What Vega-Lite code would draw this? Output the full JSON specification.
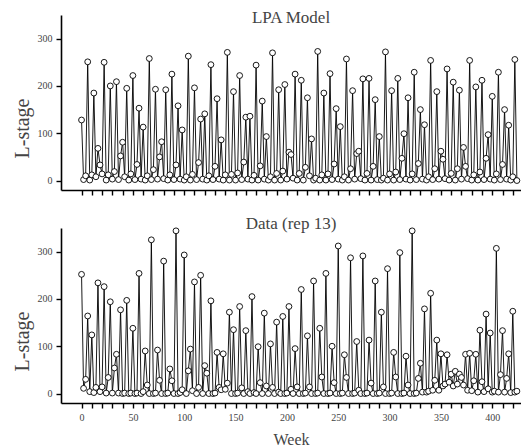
{
  "$schema": "https://vega.github.io/schema/vega-lite/v6.json",
  "padding": {"left": 12, "top": 9, "right": 1, "bottom": 2},
  "config": {
    "view": {"stroke": null},
    "font": "Liberation Serif",
    "axis": {"grid": false, "domainColor": "#000", "domainWidth": 1.6, "tickColor": "#000", "tickWidth": 1.4, "labelFont": "Liberation Serif", "labelColor": "#444", "labelFontSize": 10, "titleFont": "Liberation Serif", "titleFontWeight": "normal", "titleColor": "#444"},
    "title": {"font": "Liberation Serif", "fontWeight": "normal", "fontSize": 17, "color": "#444"}
  },
  "datasets": {
    "model": [
{"w":0,"L":128},{"w":2,"L":2},{"w":4,"L":10},{"w":6,"L":251},{"w":8,"L":1},{"w":10,"L":12},{"w":12,"L":185},{"w":14,"L":8},{"w":16,"L":68},{"w":18,"L":33},
{"w":20,"L":14},{"w":22,"L":250},{"w":24,"L":1},{"w":26,"L":12},{"w":28,"L":200},{"w":30,"L":3},{"w":32,"L":19},{"w":34,"L":209},{"w":36,"L":2},{"w":38,"L":52},
{"w":40,"L":81},{"w":42,"L":8},{"w":44,"L":195},{"w":46,"L":1},{"w":48,"L":14},{"w":50,"L":222},{"w":52,"L":2},{"w":54,"L":34},{"w":56,"L":153},{"w":58,"L":3},
{"w":60,"L":113},{"w":62,"L":1},{"w":64,"L":10},{"w":66,"L":258},{"w":68,"L":2},{"w":70,"L":23},{"w":72,"L":193},{"w":74,"L":3},{"w":76,"L":50},{"w":78,"L":82},
{"w":80,"L":4},{"w":82,"L":192},{"w":84,"L":1},{"w":86,"L":12},{"w":88,"L":225},{"w":90,"L":2},{"w":92,"L":33},{"w":94,"L":158},{"w":96,"L":3},{"w":98,"L":107},
{"w":100,"L":1},{"w":102,"L":8},{"w":104,"L":263},{"w":106,"L":1},{"w":108,"L":13},{"w":110,"L":196},{"w":112,"L":2},{"w":114,"L":38},{"w":116,"L":130},{"w":118,"L":3},
{"w":120,"L":141},{"w":122,"L":1},{"w":124,"L":10},{"w":126,"L":245},{"w":128,"L":2},{"w":130,"L":30},{"w":132,"L":173},{"w":134,"L":3},{"w":136,"L":86},{"w":138,"L":1},
{"w":140,"L":12},{"w":142,"L":271},{"w":144,"L":1},{"w":146,"L":13},{"w":148,"L":188},{"w":150,"L":1},{"w":152,"L":16},{"w":154,"L":222},{"w":156,"L":2},{"w":158,"L":39},
{"w":160,"L":134},{"w":162,"L":3},{"w":164,"L":136},{"w":166,"L":1},{"w":168,"L":11},{"w":170,"L":244},{"w":172,"L":1},{"w":174,"L":31},{"w":176,"L":168},{"w":178,"L":3},
{"w":180,"L":93},{"w":182,"L":1},{"w":184,"L":8},{"w":186,"L":270},{"w":188,"L":1},{"w":190,"L":15},{"w":192,"L":192},{"w":194,"L":1},{"w":196,"L":20},{"w":198,"L":203},
{"w":200,"L":3},{"w":202,"L":60},{"w":204,"L":55},{"w":206,"L":5},{"w":208,"L":225},{"w":210,"L":1},{"w":212,"L":15},{"w":214,"L":212},{"w":216,"L":1},{"w":218,"L":28},
{"w":220,"L":175},{"w":222,"L":10},{"w":224,"L":88},{"w":226,"L":1},{"w":228,"L":5},{"w":230,"L":273},{"w":232,"L":1},{"w":234,"L":12},{"w":236,"L":185},{"w":238,"L":1},
{"w":240,"L":14},{"w":242,"L":226},{"w":244,"L":2},{"w":246,"L":35},{"w":248,"L":152},{"w":250,"L":3},{"w":252,"L":114},{"w":254,"L":1},{"w":256,"L":8},{"w":258,"L":257},
{"w":260,"L":1},{"w":262,"L":25},{"w":264,"L":190},{"w":266,"L":3},{"w":268,"L":57},{"w":270,"L":62},{"w":272,"L":4},{"w":274,"L":215},{"w":276,"L":1},{"w":278,"L":15},
{"w":280,"L":216},{"w":282,"L":1},{"w":284,"L":30},{"w":286,"L":171},{"w":288,"L":2},{"w":290,"L":93},{"w":292,"L":1},{"w":294,"L":5},{"w":296,"L":272},{"w":298,"L":1},
{"w":300,"L":14},{"w":302,"L":190},{"w":304,"L":1},{"w":306,"L":18},{"w":308,"L":216},{"w":310,"L":2},{"w":312,"L":47},{"w":314,"L":99},{"w":316,"L":3},{"w":318,"L":175},
{"w":320,"L":1},{"w":322,"L":14},{"w":324,"L":229},{"w":326,"L":2},{"w":328,"L":36},{"w":330,"L":150},{"w":332,"L":3},{"w":334,"L":118},{"w":336,"L":1},{"w":338,"L":8},
{"w":340,"L":254},{"w":342,"L":2},{"w":344,"L":25},{"w":346,"L":188},{"w":348,"L":3},{"w":350,"L":62},{"w":352,"L":45},{"w":354,"L":4},{"w":356,"L":236},{"w":358,"L":1},
{"w":360,"L":15},{"w":362,"L":208},{"w":364,"L":1},{"w":366,"L":25},{"w":368,"L":191},{"w":370,"L":3},{"w":372,"L":70},{"w":374,"L":30},{"w":376,"L":4},{"w":378,"L":254},
{"w":380,"L":1},{"w":382,"L":12},{"w":384,"L":198},{"w":386,"L":1},{"w":388,"L":18},{"w":390,"L":212},{"w":392,"L":2},{"w":394,"L":47},{"w":396,"L":97},{"w":398,"L":3},
{"w":400,"L":178},{"w":402,"L":1},{"w":404,"L":14},{"w":406,"L":229},{"w":408,"L":2},{"w":410,"L":34},{"w":412,"L":150},{"w":414,"L":3},{"w":416,"L":117},{"w":418,"L":1},
{"w":420,"L":8},{"w":422,"L":256},{"w":424,"L":0}
    ],
    "data": [
{"w":0,"L":252},{"w":2,"L":11},{"w":4,"L":30},{"w":6,"L":164},{"w":8,"L":4},{"w":10,"L":124},{"w":12,"L":2},{"w":14,"L":13},{"w":16,"L":234},{"w":18,"L":4},
{"w":20,"L":14},{"w":22,"L":226},{"w":24,"L":1},{"w":26,"L":34},{"w":28,"L":194},{"w":30,"L":1},{"w":32,"L":54},{"w":34,"L":83},{"w":36,"L":1},{"w":38,"L":177},
{"w":40,"L":0},{"w":42,"L":1},{"w":44,"L":197},{"w":46,"L":0},{"w":48,"L":1},{"w":50,"L":138},{"w":52,"L":0},{"w":54,"L":1},{"w":56,"L":254},{"w":58,"L":0},
{"w":60,"L":4},{"w":62,"L":90},{"w":64,"L":18},{"w":66,"L":0},{"w":68,"L":325},{"w":70,"L":0},{"w":72,"L":1},{"w":74,"L":92},{"w":76,"L":28},{"w":78,"L":0},
{"w":80,"L":280},{"w":82,"L":0},{"w":84,"L":1},{"w":86,"L":52},{"w":88,"L":27},{"w":90,"L":0},{"w":92,"L":344},{"w":94,"L":0},{"w":96,"L":2},{"w":98,"L":8},
{"w":100,"L":293},{"w":102,"L":0},{"w":104,"L":48},{"w":106,"L":94},{"w":108,"L":6},{"w":110,"L":236},{"w":112,"L":0},{"w":114,"L":13},{"w":116,"L":250},{"w":118,"L":0},
{"w":120,"L":59},{"w":122,"L":43},{"w":124,"L":0},{"w":126,"L":196},{"w":128,"L":0},{"w":130,"L":1},{"w":132,"L":87},{"w":134,"L":13},{"w":136,"L":8},{"w":138,"L":84},
{"w":140,"L":9},{"w":142,"L":22},{"w":144,"L":172},{"w":146,"L":0},{"w":148,"L":135},{"w":150,"L":0},{"w":152,"L":1},{"w":154,"L":184},{"w":156,"L":12},{"w":158,"L":0},
{"w":160,"L":133},{"w":162,"L":4},{"w":164,"L":0},{"w":166,"L":205},{"w":168,"L":2},{"w":170,"L":0},{"w":172,"L":99},{"w":174,"L":23},{"w":176,"L":0},{"w":178,"L":170},
{"w":180,"L":16},{"w":182,"L":0},{"w":184,"L":105},{"w":186,"L":13},{"w":188,"L":0},{"w":190,"L":151},{"w":192,"L":3},{"w":194,"L":0},{"w":196,"L":163},{"w":198,"L":0},
{"w":200,"L":1},{"w":202,"L":184},{"w":204,"L":9},{"w":206,"L":0},{"w":208,"L":95},{"w":210,"L":14},{"w":212,"L":0},{"w":214,"L":220},{"w":216,"L":0},{"w":218,"L":1},
{"w":220,"L":122},{"w":222,"L":14},{"w":224,"L":0},{"w":226,"L":238},{"w":228,"L":0},{"w":230,"L":1},{"w":232,"L":138},{"w":234,"L":35},{"w":236,"L":0},{"w":238,"L":254},
{"w":240,"L":0},{"w":242,"L":1},{"w":244,"L":100},{"w":246,"L":23},{"w":248,"L":0},{"w":250,"L":312},{"w":252,"L":0},{"w":254,"L":1},{"w":256,"L":82},{"w":258,"L":34},
{"w":260,"L":0},{"w":262,"L":287},{"w":264,"L":0},{"w":266,"L":1},{"w":268,"L":110},{"w":270,"L":7},{"w":272,"L":0},{"w":274,"L":291},{"w":276,"L":0},{"w":278,"L":1},
{"w":280,"L":113},{"w":282,"L":22},{"w":284,"L":0},{"w":286,"L":238},{"w":288,"L":0},{"w":290,"L":1},{"w":292,"L":172},{"w":294,"L":14},{"w":296,"L":0},{"w":298,"L":264},
{"w":300,"L":0},{"w":302,"L":1},{"w":304,"L":87},{"w":306,"L":35},{"w":308,"L":0},{"w":310,"L":298},{"w":312,"L":0},{"w":314,"L":1},{"w":316,"L":79},{"w":318,"L":18},
{"w":320,"L":0},{"w":322,"L":344},{"w":324,"L":0},{"w":326,"L":1},{"w":328,"L":32},{"w":330,"L":64},{"w":332,"L":3},{"w":334,"L":179},{"w":336,"L":3},{"w":338,"L":5},
{"w":340,"L":212},{"w":342,"L":7},{"w":344,"L":28},{"w":346,"L":113},{"w":348,"L":7},{"w":350,"L":84},{"w":352,"L":16},{"w":354,"L":20},{"w":356,"L":82},{"w":358,"L":24},
{"w":360,"L":41},{"w":362,"L":16},{"w":364,"L":47},{"w":366,"L":20},{"w":368,"L":41},{"w":370,"L":34},{"w":372,"L":18},{"w":374,"L":83},{"w":376,"L":7},{"w":378,"L":85},
{"w":380,"L":6},{"w":382,"L":27},{"w":384,"L":83},{"w":386,"L":3},{"w":388,"L":134},{"w":390,"L":25},{"w":392,"L":4},{"w":394,"L":168},{"w":396,"L":10},{"w":398,"L":128},
{"w":400,"L":3},{"w":402,"L":5},{"w":404,"L":307},{"w":406,"L":3},{"w":408,"L":40},{"w":410,"L":133},{"w":412,"L":3},{"w":414,"L":32},{"w":416,"L":84},{"w":418,"L":2},
{"w":420,"L":174},{"w":422,"L":3},{"w":424,"L":5}
    ]
  },
  "spacing": 19,
  "vconcat": [
    {
      "width": 460, "height": 175,
      "title": {"text": "LPA Model", "offset": -12, "anchor": "middle"},
      "data": {"name": "model"},
      "encoding": {
        "x": {"field": "w", "type": "quantitative", "scale": {"domain": [-20, 428], "nice": false, "zero": false},
              "axis": {"title": null, "labels": false, "values": [0,10,20,30,40,50,60,70,80,90,100,110,120,130,140,150,160,170,180,190,200,210,220,230,240,250,260,270,280,290,300,310,320,330,340,350,360,370,380,390,400,410,420], "tickSize": 5}},
        "y": {"field": "L", "type": "quantitative", "scale": {"domain": [-20, 350], "nice": false, "zero": false},
              "axis": {"title": "L-stage", "values": [0, 100, 200, 300], "tickSize": 5, "labelPadding": 4, "titleFontSize": 20, "titleX": -33, "titleY": 113, "titleBaseline": "alphabetic", "titleAngle": 270}}
      },
      "layer": [
        {"mark": {"type": "line", "color": "#000", "strokeWidth": 0.9}},
        {"mark": {"type": "point", "filled": true, "fill": "#fff", "stroke": "#000", "strokeWidth": 0.9, "size": 34, "opacity": 1}}
      ]
    },
    {
      "width": 460, "height": 175,
      "title": {"text": "Data (rep 13)", "offset": -7, "anchor": "middle"},
      "data": {"name": "data"},
      "encoding": {
        "x": {"field": "w", "type": "quantitative", "scale": {"domain": [-20, 428], "nice": false, "zero": false},
              "axis": {"title": "Week", "titleFontSize": 16, "titlePadding": 9, "labelPadding": 4, "values": [0,10,20,30,40,50,60,70,80,90,100,110,120,130,140,150,160,170,180,190,200,210,220,230,240,250,260,270,280,290,300,310,320,330,340,350,360,370,380,390,400,410,420], "labelExpr": "datum.value % 50 === 0 ? datum.label : ''", "tickSize": 5}},
        "y": {"field": "L", "type": "quantitative", "scale": {"domain": [-20, 350], "nice": false, "zero": false},
              "axis": {"title": "L-stage", "values": [0, 100, 200, 300], "tickSize": 5, "labelPadding": 4, "titleFontSize": 20, "titleX": -33, "titleY": 113, "titleBaseline": "alphabetic", "titleAngle": 270}}
      },
      "layer": [
        {"mark": {"type": "line", "color": "#000", "strokeWidth": 0.9}},
        {"mark": {"type": "point", "filled": true, "fill": "#fff", "stroke": "#000", "strokeWidth": 0.9, "size": 34, "opacity": 1}}
      ]
    }
  ]
}
